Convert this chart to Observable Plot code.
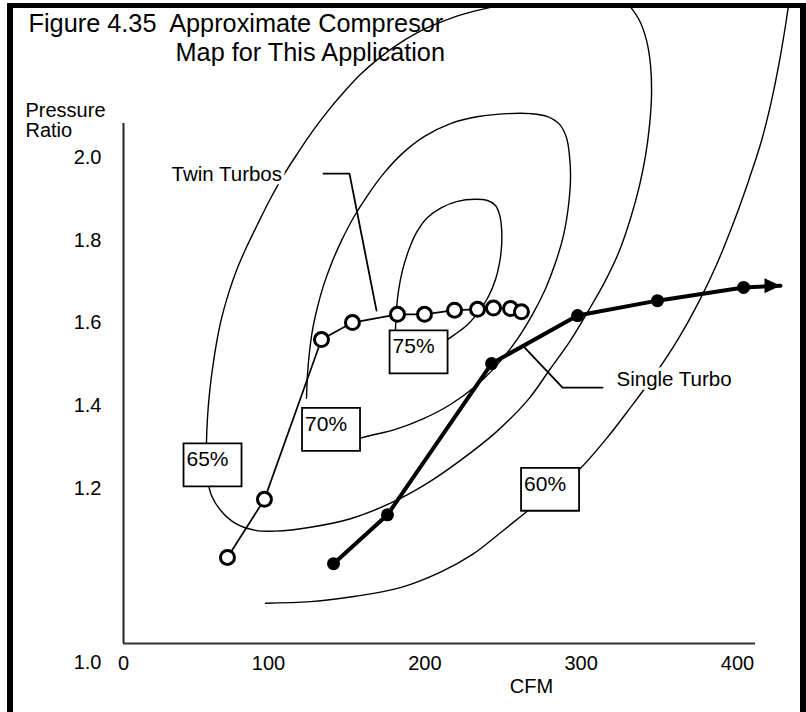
<!DOCTYPE html>
<html><head><meta charset="utf-8">
<script src="https://cdn.jsdelivr.net/npm/d3@7"></script>
<script src="https://cdn.jsdelivr.net/npm/@observablehq/plot@0.6"></script>
<style>
html,body{margin:0;padding:0;background:#fff;overflow:hidden;}
#wrap{position:relative;width:806px;height:712px;background:#fff;}
#border{position:absolute;left:7px;top:3px;width:799px;height:730px;box-sizing:border-box;border-left:6px solid #000;border-top:5px solid #000;border-right:6px solid #000;pointer-events:none;}
</style></head><body>
<div id="wrap"><div id="chart"></div><div id="border"></div></div>
<script>
// ---- axis ticks ----
const xTicks = [0, 100, 200, 300, 400];
const yTicks = [1.2, 1.4, 1.6, 1.8, 2.0];
const yTickOrigin = [1.0];
const xAxisBase = [0];
const yAxisBase = [1.0];

// ---- text ----
const titleLine1 = "Figure 4.35\u00a0 Approximate Compresor";
const titleLine2 = "Map for This Application";
const yTitleLines = ["Pressure", "Ratio"];
const xTitle = "CFM";

// ---- Twin Turbos (CFM, pressure ratio) ----
const twinCfm = [71.7, 97.2, 133.9, 153.7, 182.5, 199.8, 219.0, 233.7, 243.9, 254.8, 261.8];
const twinPr  = [1.111, 1.186, 1.560, 1.601, 1.621, 1.621, 1.631, 1.633, 1.636, 1.635, 1.627];

// ---- Single Turbo ----
const singleCfm = [141.6, 176.1, 242.7, 297.7, 348.8, 403.9];
const singlePr  = [1.103, 1.166, 1.502, 1.618, 1.654, 1.686];
const arrowTipCfm = [427.5];
const arrowTipPr = [1.690];

// ---- efficiency islands [CFM, PR] ----
const contour75 = [[181.2,1.582],[181.8,1.630],[183.2,1.679],[185.7,1.727],[189.6,1.775],[194.7,1.819],[201.7,1.855],[210.7,1.879],[220.9,1.894],[231.8,1.899],[240.1,1.896],[245.2,1.884],[247.8,1.862],[249.1,1.828],[249.1,1.787],[247.8,1.746],[245.2,1.705],[240.7,1.664],[235.0,1.630],[227.3,1.596],[219.0,1.572],[214.5,1.560]];
const contour70 = [[124.3,1.418],[124.9,1.473],[126.2,1.529],[128.1,1.582],[131.3,1.638],[135.2,1.691],[140.3,1.744],[146.7,1.799],[154.4,1.855],[163.3,1.908],[173.6,1.961],[185.7,2.010],[199.8,2.051],[216.4,2.082],[234.3,2.099],[252.9,2.106],[267.6,2.106],[278.5,2.099],[286.2,2.080],[290.6,2.048],[292.5,2.005],[293.2,1.952],[291.9,1.884],[288.7,1.812],[283.6,1.746],[277.2,1.683],[268.9,1.621],[258.6,1.558],[246.5,1.500],[232.4,1.447],[216.4,1.403],[199.2,1.369],[181.2,1.343],[165.2,1.328],[158.2,1.321]];
const contour65 = [[330.3,2.370],[337.3,2.331],[341.8,2.283],[344.4,2.222],[345.0,2.150],[343.7,2.077],[341.2,2.005],[337.3,1.932],[331.6,1.853],[324.5,1.775],[315.6,1.703],[304.7,1.630],[293.2,1.558],[280.4,1.490],[265.7,1.413],[245.2,1.335],[222.8,1.268],[200.4,1.210],[178.0,1.181],[152.5,1.161],[126.9,1.150],[104.5,1.145],[91.0,1.146],[77.2,1.155],[66.9,1.172],[60.7,1.191],[57.9,1.224],[57.2,1.268],[57.2,1.309],[57.9,1.369],[59.3,1.430],[61.4,1.490],[64.1,1.551],[67.6,1.611],[72.4,1.671],[77.9,1.727],[84.8,1.783],[92.4,1.838],[101.3,1.901],[109.6,1.957],[118.6,2.010],[128.1,2.063],[137.7,2.111],[148.0,2.157],[158.9,2.201],[170.4,2.239],[182.5,2.273],[195.3,2.302],[208.1,2.324],[224.1,2.346],[242.0,2.363],[251.6,2.370]];
const contour60 = [[97.9,1.052],[126.9,1.054],[155.7,1.061],[184.4,1.072],[210.0,1.092],[230.5,1.115],[248.4,1.143],[266.3,1.172],[282.3,1.197],[298.3,1.244],[315.6,1.318],[331.6,1.396],[347.6,1.478],[362.3,1.563],[375.1,1.650],[386.6,1.741],[397.5,1.843],[407.1,1.944],[415.4,2.041],[421.8,2.138],[426.9,2.234],[430.7,2.319],[432.6,2.367]];

// ---- efficiency labels ----
const effLabels = ["65%", "70%", "75%", "60%"];
const effCfm = [61.4, 140.0, 196.0, 280.1];
const effPr = [1.257, 1.343, 1.530, 1.199];

// ---- callouts ----
const calloutText = ["Twin Turbos", "Single Turbo"];
const calloutCfm = [33.1, 322.6];
const calloutPr = [1.959, 1.463];
const twinLeader = [[135.2,1.961],[151.8,1.961],[169.1,1.630]];
const singleLeader = [[262.5,1.546],[288.1,1.444],[313.7,1.444]];

// ---- build tables ----
const twin = twinCfm.map((c, i) => ({cfm: c, pr: twinPr[i]}));
const single = singleCfm.map((c, i) => ({cfm: c, pr: singlePr[i]}));
const tip = arrowTipCfm.map((c, i) => ({cfm: c, pr: arrowTipPr[i]}));
const shaft = [single[single.length - 1], tip[0]];
const eff = effLabels.map((t, i) => ({t, cfm: effCfm[i], pr: effPr[i]}));
const callouts = calloutText.map((t, i) => ({t, cfm: calloutCfm[i], pr: calloutPr[i]}));
const contours = [contour75, contour70, contour65, contour60];

const FONT = "'Liberation Sans', Arial, Helvetica, sans-serif";
const boxSymbol = {draw(ctx) { ctx.moveTo(-29, -21.5); ctx.lineTo(29, -21.5); ctx.lineTo(29, 21.5); ctx.lineTo(-29, 21.5); ctx.closePath(); }};
const headSymbol = {draw(ctx) { ctx.moveTo(0, 0); ctx.lineTo(-16, -7.5); ctx.lineTo(-16, 7.5); ctx.closePath(); }};

const chart = Plot.plot({
  width: 806, height: 712,
  marginLeft: 123, marginRight: 51, marginTop: 123, marginBottom: 69,
  style: {fontFamily: FONT, fontSize: "20px", color: "#000", background: "transparent", overflow: "visible"},
  x: {type: "linear", domain: [0, 100, 400], range: [123, 268, 737]},
  y: {type: "linear", domain: [1.0, 1.2, 2.0], range: [643, 488, 157]},
  marks: [
    ...contours.map(c => Plot.line(c, {x: d => d[0], y: d => d[1], curve: "catmull-rom", stroke: "#000", strokeWidth: 1.4})),
    Plot.ruleX(xAxisBase, {stroke: "#222", strokeWidth: 2}),
    Plot.ruleY(yAxisBase, {stroke: "#333", strokeWidth: 2.2}),
    Plot.axisX(xTicks, {tickSize: 0, tickPadding: 12, label: null, fontSize: 20}),
    Plot.axisY(yTicks, {tickSize: 0, tickPadding: 22, label: null, fontSize: 20, tickFormat: d => d.toFixed(1)}),
    Plot.axisY(yTickOrigin, {tickSize: 0, tickPadding: 22, dy: 19, label: null, fontSize: 20, tickFormat: d => d.toFixed(1)}),
    Plot.line(twinLeader, {x: d => d[0], y: d => d[1], stroke: "#000", strokeWidth: 1.8}),
    Plot.line(singleLeader, {x: d => d[0], y: d => d[1], stroke: "#000", strokeWidth: 1.8}),
    Plot.text(callouts, {x: "cfm", y: "pr", text: "t", textAnchor: "start", lineAnchor: "middle", fontSize: 20.5, fill: "#000", stroke: "#fff", strokeWidth: 7, paintOrder: "stroke"}),
    Plot.line(twin, {x: "cfm", y: "pr", stroke: "#000", strokeWidth: 1.7}),
    Plot.dot(twin, {x: "cfm", y: "pr", r: 7, fill: "#fff", stroke: "#000", strokeWidth: 3}),
    Plot.line(single, {x: "cfm", y: "pr", stroke: "#000", strokeWidth: 4, strokeLinejoin: "round"}),
    Plot.line(shaft, {x: "cfm", y: "pr", stroke: "#000", strokeWidth: 4}),
    Plot.dot(single, {x: "cfm", y: "pr", r: 6.5, fill: "#000", stroke: "none"}),
    Plot.dot(tip, {x: "cfm", y: "pr", symbol: headSymbol, fill: "#000", stroke: "none"}),
    Plot.dot(eff, {x: "cfm", y: "pr", symbol: boxSymbol, fill: "#fff", stroke: "#000", strokeWidth: 1.8}),
    Plot.text(eff, {x: "cfm", y: "pr", text: "t", textAnchor: "middle", lineAnchor: "middle", dx: -5, dy: -5.5, fontSize: 21, fill: "#000"}),
    Plot.text([titleLine1], {text: d => d, frameAnchor: "top-left", dx: -95, dy: -100, textAnchor: "start", lineAnchor: "middle", fontSize: 25.3, fill: "#000"}),
    Plot.text([titleLine2], {text: d => d, frameAnchor: "top-left", dx: 52, dy: -71, textAnchor: "start", lineAnchor: "middle", fontSize: 25.3, fill: "#000"}),
    Plot.text([yTitleLines[0]], {text: d => d, frameAnchor: "top-left", dx: -98, dy: -13, textAnchor: "start", lineAnchor: "middle", fontSize: 20, fill: "#000"}),
    Plot.text([yTitleLines[1]], {text: d => d, frameAnchor: "top-left", dx: -98, dy: 7, textAnchor: "start", lineAnchor: "middle", fontSize: 20, fill: "#000"}),
    Plot.text([xTitle], {text: d => d, frameAnchor: "bottom", dx: 92, dy: 43, textAnchor: "middle", lineAnchor: "middle", fontSize: 20, fill: "#000"})
  ]
});
document.getElementById("chart").appendChild(chart);
</script>
</body></html>
